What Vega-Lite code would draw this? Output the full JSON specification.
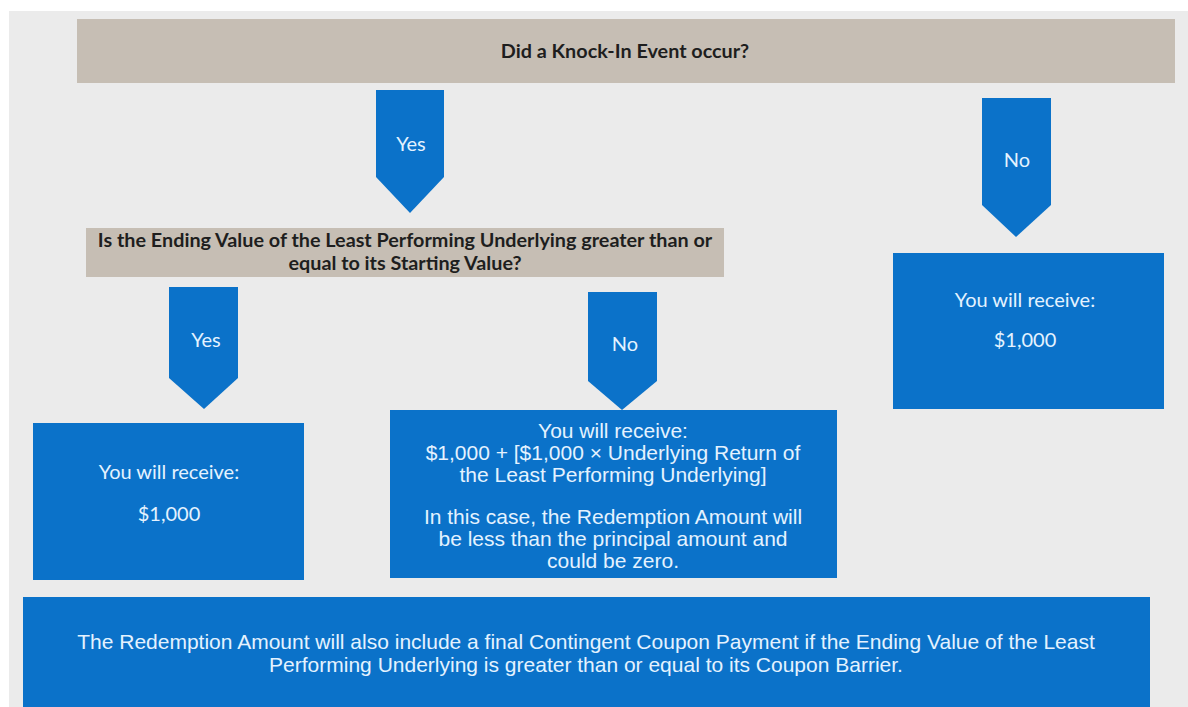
{
  "$schema": "https://vega.github.io/schema/vega-lite/v6.json",
  "width": 1188,
  "height": 707,
  "padding": 0,
  "autosize": {"type": "none"},
  "background": "#ffffff",
  "config": {"view": {"stroke": null}},
  "datasets": {
    "boxes": [
      {"kind": "bg", "x": 9, "x2": 1188, "y": 11, "y2": 707},
      {"kind": "beige", "x": 77, "x2": 1175, "y": 19, "y2": 83},
      {"kind": "beige", "x": 86, "x2": 724, "y": 228, "y2": 277},
      {"kind": "blue", "x": 893, "x2": 1164, "y": 253, "y2": 409},
      {"kind": "blue", "x": 33, "x2": 304, "y": 423, "y2": 580},
      {"kind": "blue", "x": 390, "x2": 837, "y": 410, "y2": 578},
      {"kind": "blue", "x": 23, "x2": 1150, "y": 597, "y2": 707}
    ],
    "arrows": [
      {"arrow": "yes1", "x": 376, "y": 90, "y2": 177},
      {"arrow": "yes1", "x": 410, "y": 90, "y2": 213},
      {"arrow": "yes1", "x": 444, "y": 90, "y2": 177},
      {"arrow": "no1", "x": 982, "y": 98, "y2": 205},
      {"arrow": "no1", "x": 1016, "y": 98, "y2": 237},
      {"arrow": "no1", "x": 1051, "y": 98, "y2": 205},
      {"arrow": "yes2", "x": 169, "y": 287, "y2": 378},
      {"arrow": "yes2", "x": 204, "y": 287, "y2": 409},
      {"arrow": "yes2", "x": 238, "y": 287, "y2": 378},
      {"arrow": "no2", "x": 588, "y": 292, "y2": 381},
      {"arrow": "no2", "x": 622, "y": 292, "y2": 410},
      {"arrow": "no2", "x": 657, "y": 292, "y2": 381}
    ],
    "questions": [
      {"label": "Did a Knock-In Event occur?", "x": 625, "y": 58},
      {"label": "Is the Ending Value of the Least Performing Underlying greater than or", "x": 405, "y": 247},
      {"label": "equal to its Starting Value?", "x": 405, "y": 270}
    ],
    "short": [
      {"label": "Yes", "x": 411, "y": 151},
      {"label": "No", "x": 1017, "y": 167},
      {"label": "Yes", "x": 206, "y": 347},
      {"label": "No", "x": 625, "y": 351},
      {"label": "You will receive:", "x": 1025, "y": 307},
      {"label": "$1,000", "x": 1025, "y": 347},
      {"label": "You will receive:", "x": 169, "y": 479},
      {"label": "$1,000", "x": 169, "y": 521}
    ],
    "long": [
      {"label": "You will receive:", "x": 613, "y": 438},
      {"label": "$1,000 + [$1,000 × Underlying Return of", "x": 613, "y": 460},
      {"label": "the Least Performing Underlying]", "x": 613, "y": 482},
      {"label": "In this case, the Redemption Amount will", "x": 613, "y": 524},
      {"label": "be less than the principal amount and", "x": 613, "y": 546},
      {"label": "could be zero.", "x": 613, "y": 568},
      {"label": "The Redemption Amount will also include a final Contingent Coupon Payment if the Ending Value of the Least", "x": 586, "y": 649},
      {"label": "Performing Underlying is greater than or equal to its Coupon Barrier.", "x": 586, "y": 672}
    ]
  },
  "encoding": {
    "x": {"field": "x", "type": "quantitative", "scale": {"domain": [0, 1188], "nice": false, "zero": false}, "axis": null},
    "y": {"field": "y", "type": "quantitative", "scale": {"domain": [0, 707], "reverse": true, "nice": false, "zero": false}, "axis": null}
  },
  "layer": [
    {
      "data": {"name": "boxes"},
      "mark": {"type": "rect"},
      "encoding": {
        "x2": {"field": "x2"},
        "y2": {"field": "y2"},
        "color": {"field": "kind", "type": "nominal", "scale": {"domain": ["bg", "beige", "blue"], "range": ["#ebebeb", "#c6beb4", "#0b72c9"]}, "legend": null}
      }
    },
    {
      "data": {"name": "arrows"},
      "mark": {"type": "area", "color": "#0b72c9", "orient": "vertical", "interpolate": "linear"},
      "encoding": {
        "y2": {"field": "y2"},
        "detail": {"field": "arrow", "type": "nominal"}
      }
    },
    {
      "data": {"name": "questions"},
      "mark": {"type": "text", "font": "Lato", "fontWeight": "bold", "fontSize": 19.8, "color": "#1e1e1e", "align": "center", "baseline": "alphabetic"},
      "encoding": {"text": {"field": "label"}}
    },
    {
      "data": {"name": "short"},
      "mark": {"type": "text", "font": "Lato", "fontWeight": "normal", "fontSize": 20, "color": "#e4f2ff", "align": "center", "baseline": "alphabetic"},
      "encoding": {"text": {"field": "label"}}
    },
    {
      "data": {"name": "long"},
      "mark": {"type": "text", "font": "Liberation Sans", "fontSize": 21, "color": "#e4f2ff", "align": "center", "baseline": "alphabetic"},
      "encoding": {"text": {"field": "label"}}
    }
  ]
}
